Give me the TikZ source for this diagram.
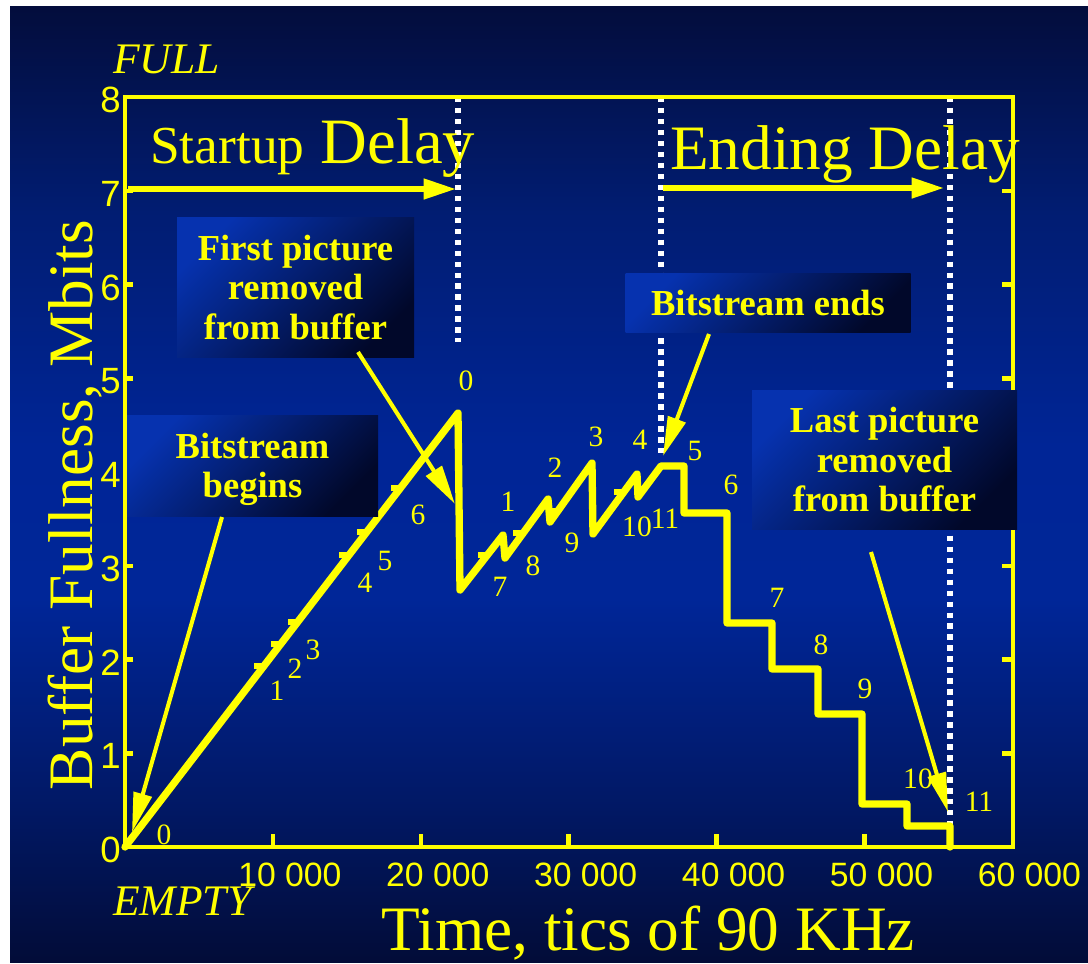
\documentclass[tikz,border=0pt]{standalone}
\usepackage{fontspec}
\setmainfont{Liberation Serif}
\newfontfamily\ticksans{Liberation Sans}
\usetikzlibrary{arrows.meta}

% one drawing unit = one pixel of the 1088 x 963 page
\newlength\pxu
\setlength\pxu{0.025cm}

\definecolor{ylw}{RGB}{255,255,0}
\definecolor{bgA}{RGB}{3,13,60}
\definecolor{bgB}{RGB}{1,29,115}
\definecolor{bgC}{RGB}{0,37,150}
\definecolor{bgD}{RGB}{0,38,152}
\definecolor{bgE}{RGB}{1,24,100}
\definecolor{bgF}{RGB}{2,12,56}
\definecolor{boxlight}{RGB}{6,50,175}
\definecolor{boxdark}{RGB}{1,8,42}

% slide background: dark at top and bottom, bright blue in the middle
\pgfdeclareverticalshading{slidebg}{100bp}{color(0bp)=(bgF); color(25bp)=(bgF); color(33bp)=(bgE); color(44bp)=(bgD); color(52bp)=(bgC); color(64bp)=(bgB); color(75bp)=(bgA); color(100bp)=(bgA)}

\tikzset{
  axisline/.style={ylw, line width=3.5pt, line join=miter},
  tickline/.style={ylw, line width=3.2pt},
  curve/.style={ylw, line width=5.2pt, line join=round, line cap=round},
  notchmark/.style={ylw, line width=3.6pt},
  dotline/.style={white, line width=4.2pt, dash pattern=on 3.9pt off 3.9pt},
  delayarrow/.style={ylw, line width=3.9pt, -{Triangle[length=23pt,width=14pt]}},
  callarrow/.style={ylw, line width=2.9pt, -{Triangle[length=28pt,width=13pt]}},
  callbox/.style={top color=boxlight, bottom color=boxdark, shading angle=45,
    inner sep=0pt, text=ylw, align=center, text depth=0pt,
    font=\rmfamily\bfseries\fontsize{26pt}{28pt}\selectfont},
  ptlabel/.style={text=ylw, inner sep=0pt, font=\rmfamily\fontsize{21pt}{23pt}\selectfont},
  ylab/.style={text=ylw, inner sep=0pt, anchor=east, font=\ticksans\fontsize{26pt}{28pt}\selectfont},
  xlab/.style={text=ylw, inner sep=0pt, font=\ticksans\fontsize{24pt}{26pt}\selectfont},
  bigtext/.style={text=ylw, inner sep=0pt},
}

\begin{document}
\begin{tikzpicture}[x=0.025cm, y=-0.025cm]
\useasboundingbox (0,0) rectangle (1088,963);
\fill[white] (0,0) rectangle (1088,963);
\shade[shading=slidebg] (10,6) rectangle (1088,962);

% delay markers
\draw[dotline] (458,97) -- (458,342);
\draw[dotline] (661,97) -- (661,458);
\draw[dotline] (950,97) -- (950,826);

% frame and ticks
\foreach \k in {1,...,7} {
  \draw[tickline] (125,{847-93.75*\k}) -- ++(8,0);
  \draw[tickline] (1013,{847-93.75*\k}) -- ++(-11,0);
}
\foreach \k in {1,...,5}
  \draw[tickline] ({125+147.9*\k},847) -- ++(0,-13);
\draw[axisline] (125,847) rectangle (1013,97);

% buffer fullness trace
\draw[curve] (125,847) -- (458,413) -- (460,590) -- (503,535) -- (505,558)
  -- (548,499) -- (550,522) -- (592,463) -- (593,534) -- (637,474)
  -- (638,497) -- (661,466) -- (684,466) -- (684,513) -- (727,513)
  -- (727,623) -- (772,623) -- (772,669) -- (818,669) -- (818,714)
  -- (862,714) -- (862,804) -- (907,804) -- (907,826) -- (950,826)
  -- (950,847);
\foreach \x/\y in {263/667,280/645,297/623,348/556,366/533,400/489,487/556,522/534,557/512,623/493}
  \draw[notchmark] (\x-9,\y-1) -- (\x,\y-1);

% delay arrows
\coordinate (startL) at (128,189);
\coordinate (startR) at (456,189);
\coordinate (endL) at (663,188);
\coordinate (endR) at (944,188);
\draw[delayarrow] (startL) -- (startR);
\draw[delayarrow] (endL) -- (endR);

% callout boxes
\node[callbox, minimum width=237*\pxu, minimum height=140*\pxu] (firstbox) at (295.5,287) {First picture\\removed\\from buffer};
\node[callbox, minimum width=251*\pxu, minimum height=101*\pxu] (beginbox) at (252.5,465.5) {Bitstream\\begins};
\node[callbox, minimum width=285*\pxu, minimum height=59*\pxu] (endsbox) at (768,302.5) {Bitstream ends};
\node[callbox, minimum width=265*\pxu, minimum height=139*\pxu] (lastbox) at (884.5,459.5) {Last picture\\removed\\from buffer};

% callout pointers
\coordinate (beginfrom) at (222,517);
\coordinate (begintip) at (132,832);
\coordinate (firstfrom) at (358,352);
\coordinate (firsttip) at (455,504);
\coordinate (endsfrom) at (709,334);
\coordinate (endstip) at (663,456);
\coordinate (lastfrom) at (871,552);
\coordinate (lasttip) at (948,812);
\draw[callarrow] (beginfrom) -- (begintip);
\draw[callarrow] (firstfrom) -- (firsttip);
\draw[callarrow] (endsfrom) -- (endstip);
\draw[callarrow] (lastfrom) -- (lasttip);

% picture numbers along the trace
\foreach \t/\x/\y [count=\i] in {0/164/835,1/277/691,2/295/669,3/313/650,4/365/583,5/385/561,6/418/515,0/466/381,
  7/500/587,1/508/502,8/533/566,2/555/468,9/572/543,3/596/437,4/640/440,10/637/527,11/665/519,5/695/451,
  6/731/485,7/777/598,8/821/645,9/865/689,10/918/779,11/979/802}
  \node[ptlabel] (pic\i) at (\x,\y) {\t};

% axis numbers
\foreach \k in {0,...,8}
  \node[ylab] (ytick\k) at (121,{850-93.75*\k}) {\k};
\foreach \k in {1,...,6}
  \node[xlab] (xtick\k) at ({142+147.9*\k},875) {\k0 000};

% titles
\node[bigtext, anchor=base west, font=\rmfamily\itshape\fontsize{31pt}{33pt}\selectfont] (fulltxt) at (113,73) {FULL};
\node[bigtext, anchor=base west, font=\rmfamily\itshape\fontsize{31pt}{33pt}\selectfont] (emptytxt) at (113,915) {EMPTY};
\node[bigtext, anchor=base west, font=\rmfamily\fontsize{46pt}{50pt}\selectfont] (startuptxt) at (150,163) {{\fontsize{38pt}{40pt}\selectfont Startup} Delay};
\node[bigtext, anchor=base west, font=\rmfamily\fontsize{45pt}{48pt}\selectfont] (endingtxt) at (670,169) {Ending Delay};
\node[bigtext, rotate=90, anchor=base, font=\rmfamily\fontsize{45pt}{48pt}\selectfont] (ytitle) at (92,505) {Buffer Fullness, Mbits};
\node[bigtext, anchor=base, font=\rmfamily\fontsize{45pt}{48pt}\selectfont] (xtitle) at (648,950) {Time, tics of 90 KHz};
\end{tikzpicture}
\end{document}
